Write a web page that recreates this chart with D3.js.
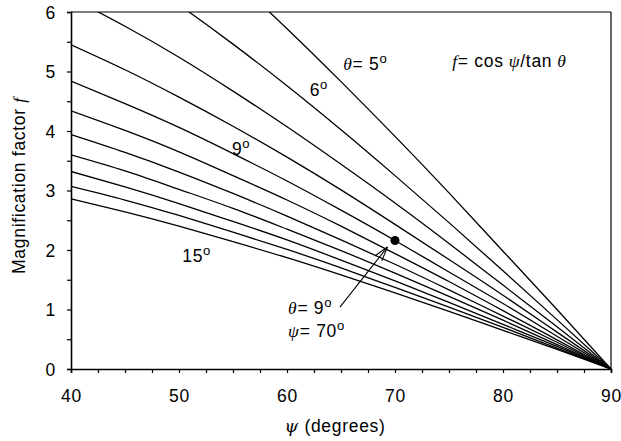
<!DOCTYPE html>
<html>
<head>
<meta charset="utf-8">
<script src="https://cdn.jsdelivr.net/npm/d3@7"></script>
<style>
  html, body { margin: 0; padding: 0; background: #fff; }
  svg { display: block; font-family: "Liberation Sans", Arial, sans-serif; }
</style>
</head>
<body>
<div id="chart"></div>
<script>
// psi sample points (degrees) and f
const PSI = [40, 45, 50, 55, 60, 65, 70, 75, 80, 85, 90];
const THETAS = [5, 6, 7, 8, 9, 10, 11, 12, 13, 14, 15];
const F_VALUES = [
  [8.76, 8.08, 7.35, 6.56, 5.72, 4.83, 3.91, 2.96, 1.98, 1.00, 0],
  [7.29, 6.73, 6.12, 5.46, 4.76, 4.02, 3.25, 2.46, 1.65, 0.83, 0],
  [6.24, 5.76, 5.24, 4.67, 4.07, 3.44, 2.79, 2.11, 1.41, 0.71, 0],
  [5.45, 5.03, 4.57, 4.08, 3.56, 3.01, 2.43, 1.84, 1.24, 0.62, 0],
  [4.84, 4.46, 4.06, 3.62, 3.16, 2.67, 2.16, 1.63, 1.10, 0.55, 0],
  [4.34, 4.01, 3.65, 3.25, 2.84, 2.40, 1.94, 1.47, 0.98, 0.49, 0],
  [3.94, 3.64, 3.31, 2.95, 2.57, 2.17, 1.76, 1.33, 0.89, 0.45, 0],
  [3.60, 3.33, 3.02, 2.70, 2.35, 1.99, 1.61, 1.22, 0.82, 0.41, 0],
  [3.32, 3.06, 2.78, 2.48, 2.17, 1.83, 1.48, 1.12, 0.75, 0.38, 0],
  [3.07, 2.84, 2.58, 2.30, 2.01, 1.70, 1.37, 1.04, 0.70, 0.35, 0],
  [2.86, 2.64, 2.40, 2.14, 1.87, 1.58, 1.28, 0.97, 0.65, 0.33, 0]
];
const X_TICKS = [40, 50, 60, 70, 80, 90];
const Y_TICKS = [0, 1, 2, 3, 4, 5, 6];
const MARKED = { psi: 70, f: 2.16 };

const W = 621, H = 441;
const Mg = { top: 12, right: 10, bottom: 72, left: 71 };
const w = W - Mg.left - Mg.right, h = H - Mg.top - Mg.bottom;
const FS = 17.5, LS = 0.7;

const svg = d3.select('#chart').append('svg').attr('width', W).attr('height', H);
const g = svg.append('g').attr('transform', `translate(${Mg.left},${Mg.top})`);

const x = d3.scaleLinear().domain([40, 90]).range([0, w]);
const y = d3.scaleLinear().domain([0, 6]).range([h, 0]);

g.append('clipPath').attr('id', 'plot').append('rect').attr('width', w).attr('height', h);

const line = d3.line().x(d => x(d[0])).y(d => y(d[1])).curve(d3.curveNatural);
const curves = g.append('g').attr('clip-path', 'url(#plot)');
THETAS.forEach((t, i) => {
  curves.append('path').datum(PSI.map((p, j) => [p, F_VALUES[i][j]]))
    .attr('d', line).attr('fill', 'none').attr('stroke', '#000').attr('stroke-width', 1.3);
});

// frame top/right
g.append('line').attr('x1', 0).attr('x2', w).attr('y1', 0).attr('y2', 0).attr('stroke', '#000').attr('stroke-width', 1.2);
g.append('line').attr('x1', w).attr('x2', w).attr('y1', 0).attr('y2', h).attr('stroke', '#000').attr('stroke-width', 1.2);

// axes with minor ticks
const xAx = g.append('g').attr('transform', `translate(0,${h})`);
xAx.call(d3.axisBottom(x).tickValues(d3.range(40, 90.1, 2.5)).tickSize(4).tickFormat(''));
xAx.call(g2 => g2.selectAll('.tick').filter(d => X_TICKS.includes(d)).append('text')
  .attr('y', 33).attr('text-anchor', 'middle').attr('fill', '#000').text(d => d));
const yAx = g.append('g');
yAx.call(d3.axisLeft(y).tickValues(d3.range(0, 6.01, 0.5)).tickSize(4).tickFormat(''));
yAx.call(g2 => g2.selectAll('.tick').filter(d => Y_TICKS.includes(d)).append('text')
  .attr('x', -15).attr('dy', '0.36em').attr('text-anchor', 'end').attr('fill', '#000').text(d => d));
[xAx, yAx].forEach(a => {
  a.select('.domain').attr('stroke-width', 1.6);
  a.selectAll('.tick line').attr('stroke-width', 1.2);
  a.selectAll('text').attr('font-family', '"Liberation Sans", Arial, sans-serif')
    .attr('font-size', FS).attr('letter-spacing', LS);
});

// axis titles
const xt = g.append('text').attr('x', w / 2 - 6).attr('y', h + 63).attr('text-anchor', 'middle')
  .attr('font-size', FS).attr('letter-spacing', LS);
xt.append('tspan').attr('font-style', 'italic').attr('font-family', '"DejaVu Serif", serif').text('ψ');
xt.append('tspan').text(' (degrees)');
const yt = g.append('text').attr('transform', `translate(${-46},${h / 2 - 5}) rotate(-90)`)
  .attr('text-anchor', 'middle').attr('font-size', FS).attr('letter-spacing', LS);
yt.append('tspan').text('Magnification factor ');
yt.append('tspan').attr('font-style', 'italic').attr('font-family', '"Liberation Serif", serif').text('f');

// labels helper: parts = [[text, italic, sup]]
function label(px, pf, parts, size = FS) {
  const t = g.append('text').attr('x', x(px)).attr('y', y(pf)).attr('font-size', size).attr('letter-spacing', LS);
  parts.forEach(([s, it, sup]) => {
    const ts = t.append('tspan').text(s);
    if (it) ts.attr('font-style', 'italic').attr('font-family', '"Liberation Serif", serif');
    if (sup) ts.attr('font-size', size * 0.75).attr('baseline-shift', '55%');
  });
  return t;
}
label(65.2, 5.03, [['θ', true], ['= 5'], ['o', false, true]]);
label(62.1, 4.58, [['6'], ['o', false, true]]);
label(54.9, 3.60, [['9'], ['o', false, true]]);
label(50.3, 1.80, [['15'], ['o', false, true]]);
label(75.3, 5.08, [['f', true], ['= cos'], [' ψ', true], ['/tan'], [' θ', true]]);
label(60.1, 0.92, [['θ', true], ['= 9'], ['o', false, true]]);
label(60.1, 0.53, [['ψ', true], ['= 70'], ['o', false, true]]);

// marked point and arrow
g.append('circle').attr('cx', x(MARKED.psi)).attr('cy', y(MARKED.f)).attr('r', 4.5).attr('fill', '#000');
const a0 = [x(64.9), y(1.04)], a1 = [x(69.3), y(2.05)];
g.append('line').attr('x1', a0[0]).attr('y1', a0[1]).attr('x2', a1[0]).attr('y2', a1[1])
  .attr('stroke', '#000').attr('stroke-width', 1.1);
const ang = Math.atan2(a0[1] - a1[1], a0[0] - a1[0]);
[-0.28, 0.28].forEach(da => {
  g.append('line').attr('x1', a1[0]).attr('y1', a1[1])
    .attr('x2', a1[0] + 15 * Math.cos(ang + da)).attr('y2', a1[1] + 15 * Math.sin(ang + da))
    .attr('stroke', '#000').attr('stroke-width', 1.1);
});
</script>
</body>
</html>
